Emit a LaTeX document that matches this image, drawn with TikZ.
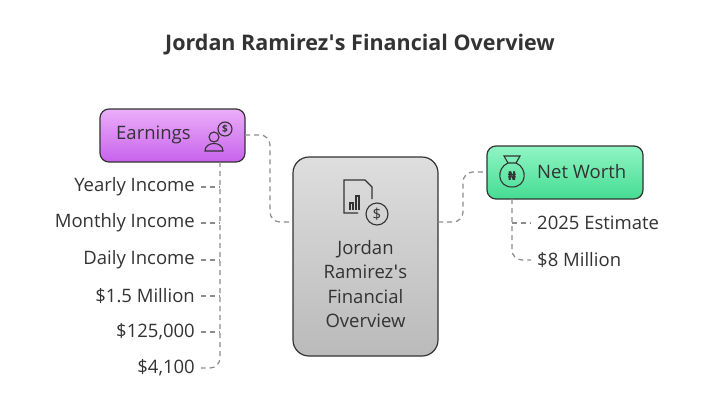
\documentclass[tikz,border=0pt]{standalone}
\usepackage{fontspec}
\setmainfont{Open Sans}
\definecolor{ptop}{HTML}{EBAEFA}\definecolor{pbot}{HTML}{C862EC}
\definecolor{gtop}{HTML}{90F5C4}\definecolor{gbot}{HTML}{45DC93}
\begin{document}
\begin{tikzpicture}[x=1pt,y=-1pt,
  box/.style={draw=black!80,line width=1.2pt,rounded corners=9pt},
  item/.style={font=\fontsize{18.5}{22}\selectfont,text=black!80,inner sep=0pt},
  conn/.style={draw=black!45,line width=1.2pt,dash pattern=on 5pt off 4pt,rounded corners=10pt},
  icon/.style={draw=black!80,line width=1.1pt}]
\useasboundingbox[fill=white] (0,0) rectangle (720,405);
\node[font=\bfseries\fontsize{21.5}{26}\selectfont,text=black!80] (title) at (360,45) {Jordan Ramirez{\fontspec{DejaVu Sans}\symbol{39}}s Financial Overview};
% boxes
\path[box,top color=ptop,bottom color=pbot] (100,109) rectangle (245,162);
\node[item,anchor=west] (earn) at (116,135) {Earnings};
\coordinate (eR) at (245,135);
\coordinate (eB) at (220,162);
\path[box,rounded corners=16pt,top color=black!13,bottom color=black!27] (293,157) rectangle (438,356);
\node[item,align=center,font=\fontsize{18.5}{24.5}\selectfont] (center) at (365.5,284) {Jordan\\Ramirez{\fontspec{DejaVu Sans}\symbol{39}}s\\Financial\\Overview};
\coordinate (cL) at (293,222); \coordinate (cR) at (438,222);
\path[box,top color=gtop,bottom color=gbot] (487,146) rectangle (643,199);
\node[item,anchor=west] (nw) at (537,172) {Net Worth};
\coordinate (nL) at (487,172); \coordinate (nB) at (512,199);
% connectors
\draw[conn] (eR) -- (270,135) -- (270,222) -- (cL);
\draw[conn] (cR) -- (463,222) -- (463,172) -- (nL);
\foreach \t/\y [count=\i] in {Yearly Income/187,Monthly Income/223,Daily Income/260,{\$1.5 Million}/296,{\$125,000}/332,{\$4,100}/368}{
  \node[item,anchor=east] (L\i) at (195,\y) {\t};
}
\draw[conn] (eB) -- (220,368) -- ([xshift=6pt]L6.east);
\foreach \i in {1,...,5}{\draw[conn,rounded corners=0pt] ([xshift=6pt]L\i.east) -- (220,0|-L\i.east);}
\node[item,anchor=west] (R1) at (537,223) {2025 Estimate};
\node[item,anchor=west] (R2) at (537,260) {\$8 Million};
\draw[conn] (nB) -- (512,260) -- ([xshift=-6pt]R2.west);
\draw[conn,rounded corners=0pt] (512,223) -- ([xshift=-6pt]R1.west);
% earnings icon
\draw[icon] (214,137) circle (5);
\draw[icon] (205,151) .. controls (205,141) and (223,141) .. (223,151) -- cycle;
\draw[icon,fill=ptop!60!pbot] (225,129) circle (7);
\node[font=\fontsize{10}{10}\selectfont\bfseries,text=black!80] (dl) at (225,129) {\$};
% center icon
\draw[icon] (358,213) -- (344,213) -- (344,180) -- (365,180) -- (372,187) -- (372,199);
\draw[icon] (350,210) -- (350,203) -- (353,203) -- (353,210);
\draw[icon] (356,210) -- (356,196) -- (359,196) -- (359,210);
\draw[icon] (377,214) circle (11);
\node[font=\fontsize{15}{15}\selectfont,text=black!80] (d2) at (377,214.5) {\$};
% net worth icon
\draw[icon] (508,163) .. controls (496,168) and (497,187) .. (512,187) .. controls (527,187) and (528,168) .. (516,163) -- cycle;
\draw[icon] (508,163) -- (504,156) -- (520,156) -- (516,163);
\node[font=\fontsize{12}{12}\selectfont\bfseries,text=black!80] (nn) at (512,176) {\fontspec{DejaVu Sans}₦};
\end{tikzpicture}
\end{document}
